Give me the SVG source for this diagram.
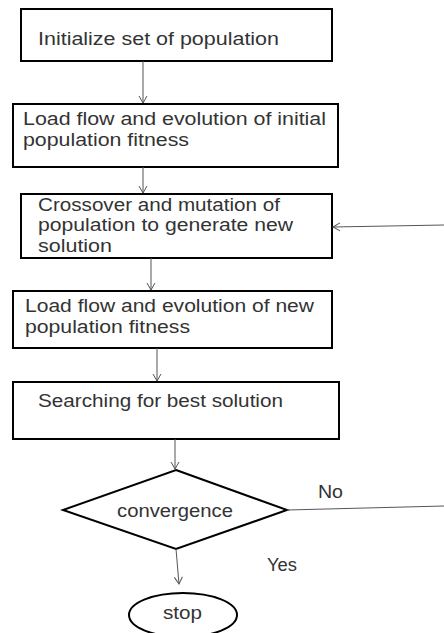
<svg xmlns="http://www.w3.org/2000/svg" width="444" height="633" viewBox="0 0 444 633">
<style>
.box{fill:#fff;stroke:#000;stroke-width:2}
.t{font-family:"Liberation Sans",Arial,sans-serif;font-size:17.5px;fill:#333}
.c{fill:none;stroke:#555;stroke-width:1}
</style>
<defs>
<marker id="ah" markerWidth="10" markerHeight="10" refX="8" refY="5" orient="auto" markerUnits="userSpaceOnUse">
<path d="M1,1 L8,5 L1,9" fill="none" stroke="#555" stroke-width="1"/>
</marker>
</defs>
<rect width="444" height="633" fill="#fff"/>
<g id="n1"><rect class="box" x="21" y="9" width="311" height="52"/><text class="t" x="38" y="45" textLength="241" lengthAdjust="spacingAndGlyphs">Initialize set of population</text></g>
<g id="n2"><rect class="box" x="13" y="104" width="325" height="63"/><text class="t" x="23" y="125" textLength="303" lengthAdjust="spacingAndGlyphs">Load flow and evolution of initial</text><text class="t" x="23" y="146" textLength="166" lengthAdjust="spacingAndGlyphs">population fitness</text></g>
<g id="n3"><rect class="box" x="21" y="194" width="311" height="64"/><text class="t" x="38" y="211" textLength="242" lengthAdjust="spacingAndGlyphs">Crossover and mutation of</text><text class="t" x="38" y="231" textLength="255" lengthAdjust="spacingAndGlyphs">population to generate new</text><text class="t" x="38" y="252" textLength="74" lengthAdjust="spacingAndGlyphs">solution</text></g>
<g id="n4"><rect class="box" x="13" y="291" width="319" height="57"/><text class="t" x="25" y="312" textLength="289" lengthAdjust="spacingAndGlyphs">Load flow and evolution of new</text><text class="t" x="25" y="333" textLength="165" lengthAdjust="spacingAndGlyphs">population fitness</text></g>
<g id="n5"><rect class="box" x="13" y="382" width="326" height="57"/><text class="t" x="38" y="407" textLength="245" lengthAdjust="spacingAndGlyphs">Searching for best solution</text></g>
<g id="n6"><polygon class="box" points="176,470 287,510 176,549 63,510"/><text class="t" x="117" y="517" textLength="116" lengthAdjust="spacingAndGlyphs">convergence</text></g>
<g id="n7"><ellipse class="box" cx="183" cy="615" rx="54" ry="22"/><text class="t" x="163" y="619" textLength="39" lengthAdjust="spacingAndGlyphs">stop</text></g>
<g id="edges">
<line class="c" x1="143" y1="61" x2="143" y2="103" marker-end="url(#ah)"/>
<line class="c" x1="143" y1="167" x2="143" y2="193" marker-end="url(#ah)"/>
<line class="c" x1="151" y1="258" x2="151" y2="290" marker-end="url(#ah)"/>
<line class="c" x1="157" y1="348" x2="157" y2="381" marker-end="url(#ah)"/>
<line class="c" x1="175" y1="439" x2="175" y2="469" marker-end="url(#ah)"/>
<line class="c" x1="176" y1="549" x2="179" y2="584" marker-end="url(#ah)"/>
<line class="c" x1="287" y1="510" x2="444" y2="506"/>
<line class="c" x1="444" y1="225" x2="333" y2="227" marker-end="url(#ah)"/>
<text class="t" x="318" y="498" textLength="25" lengthAdjust="spacingAndGlyphs">No</text>
<text class="t" x="267" y="571" textLength="30" lengthAdjust="spacingAndGlyphs">Yes</text>
</g>
</svg>
